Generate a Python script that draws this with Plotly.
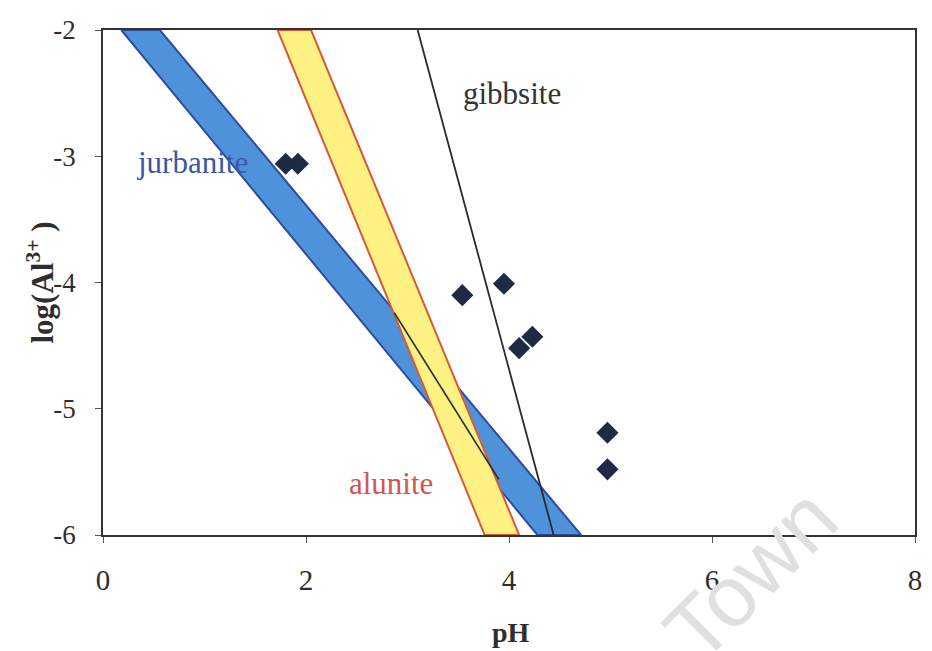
import plotly.graph_objects as go

# Stability band edges: x (pH) where each boundary meets log(Al3+) = -2 and -6
edge_y = [-2, -6]
jurbanite_low = [0.18, 4.28]
jurbanite_high = [0.56, 4.71]
alunite_low = [1.72, 3.76]
alunite_high = [2.05, 4.10]
gibbsite_x = [3.10, 4.44]

# Diagonal boundary across the jurbanite/alunite overlap
overlap_x = [2.87, 3.90]
overlap_y = [-4.24, -5.56]

# Measured water samples
sample_ph = [1.80, 1.92, 3.54, 3.95, 4.10, 4.23, 4.97, 4.97]
sample_logal = [-3.06, -3.06, -4.10, -4.01, -4.52, -4.43, -5.19, -5.48]

x_ticks = [0, 2, 4, 6, 8]
x_tick_text = ["0", "2", "4", "6", "8"]
y_ticks = [-2, -3, -4, -5, -6]
y_tick_text = ["-2", "-3", "-4", "-5", "-6"]

SERIF = "Liberation Serif, Times New Roman, serif"
INK = "#2e2e2e"

# Plot-area pixel box, used for placing free text
L, R, T, B = 103, 922, 30, 535
W, H = 932, 651


def band(low, high):
    xs = [low[0], high[0], high[1], low[1], low[0]]
    ys = [edge_y[0], edge_y[0], edge_y[1], edge_y[1], edge_y[0]]
    return xs, ys


def paper_x(px):
    return (px - L) / (R - L)


def paper_y(py):
    return (B - py) / (B - T)


fig = go.Figure()

bx, by = band(jurbanite_low, jurbanite_high)
fig.add_trace(go.Scatter(x=bx, y=by, fill="toself", mode="lines",
                         fillcolor="#4e93da",
                         line=dict(color="#2d4c9e", width=2),
                         hoverinfo="skip", showlegend=False))

ax_, ay_ = band(alunite_low, alunite_high)
fig.add_trace(go.Scatter(x=ax_, y=ay_, fill="toself", mode="lines",
                         fillcolor="#fff283",
                         line=dict(color="#d9583a", width=2),
                         hoverinfo="skip", showlegend=False))

fig.add_trace(go.Scatter(x=overlap_x, y=overlap_y, mode="lines",
                         line=dict(color="#253535", width=1.6),
                         hoverinfo="skip", showlegend=False))

fig.add_trace(go.Scatter(x=gibbsite_x, y=edge_y, mode="lines",
                         line=dict(color="#2a2a2a", width=1.8),
                         hoverinfo="skip", showlegend=False))

fig.add_trace(go.Scatter(x=sample_ph, y=sample_logal, mode="markers",
                         marker=dict(symbol="diamond", size=17, color="#1f2a44"),
                         showlegend=False))

# Mineral labels
fig.add_annotation(x=4.03, y=-2.50, text="gibbsite", showarrow=False,
                   font=dict(family=SERIF, size=31, color="#333333"))
fig.add_annotation(x=0.88, y=-3.05, text="jurbanite", showarrow=False,
                   font=dict(family=SERIF, size=31, color="#3a56a8"))
fig.add_annotation(x=2.84, y=-5.59, text="alunite", showarrow=False,
                   font=dict(family=SERIF, size=31, color="#d2554e"))

# Axis titles
fig.add_annotation(x=paper_x(39), y=paper_y(283), xref="paper", yref="paper",
                   text="<b>log(Al<sup>3+</sup> )</b>", showarrow=False,
                   textangle=-90, xanchor="center", yanchor="middle",
                   font=dict(family=SERIF, size=31, color=INK))
fig.add_annotation(x=paper_x(515), y=paper_y(632), xref="paper", yref="paper",
                   text="<b>pH</b>", showarrow=False,
                   xanchor="center", yanchor="middle",
                   font=dict(family=SERIF, size=28, color=INK))

# Faint watermark
fig.add_annotation(x=paper_x(756), y=paper_y(574), xref="paper", yref="paper",
                   text="Town", showarrow=False, textangle=-45,
                   xanchor="center", yanchor="middle",
                   font=dict(family="Liberation Sans, Arial, sans-serif",
                             size=86, color="#e0e0e0"))

axis_common = dict(showline=True, mirror=True, linecolor="#333333", linewidth=1.6,
                   showgrid=False, zeroline=False, ticks="outside", tickwidth=1,
                   tickcolor="#555555", ticklen=6)

fig.update_xaxes(range=[0, 8], tickvals=x_ticks, ticktext=x_tick_text,
                 ticklabelstandoff=12,
                 tickfont=dict(family=SERIF, size=29, color=INK), **axis_common)
fig.update_yaxes(range=[-6, -2], tickvals=y_ticks, ticktext=y_tick_text,
                 ticklabelstandoff=14,
                 tickfont=dict(family=SERIF, size=27, color=INK), **axis_common)

fig.update_layout(width=W, height=H, margin=dict(l=L, r=W - R, t=T, b=H - B),
                  plot_bgcolor="white", paper_bgcolor="white")

fig.write_html("out.html")
